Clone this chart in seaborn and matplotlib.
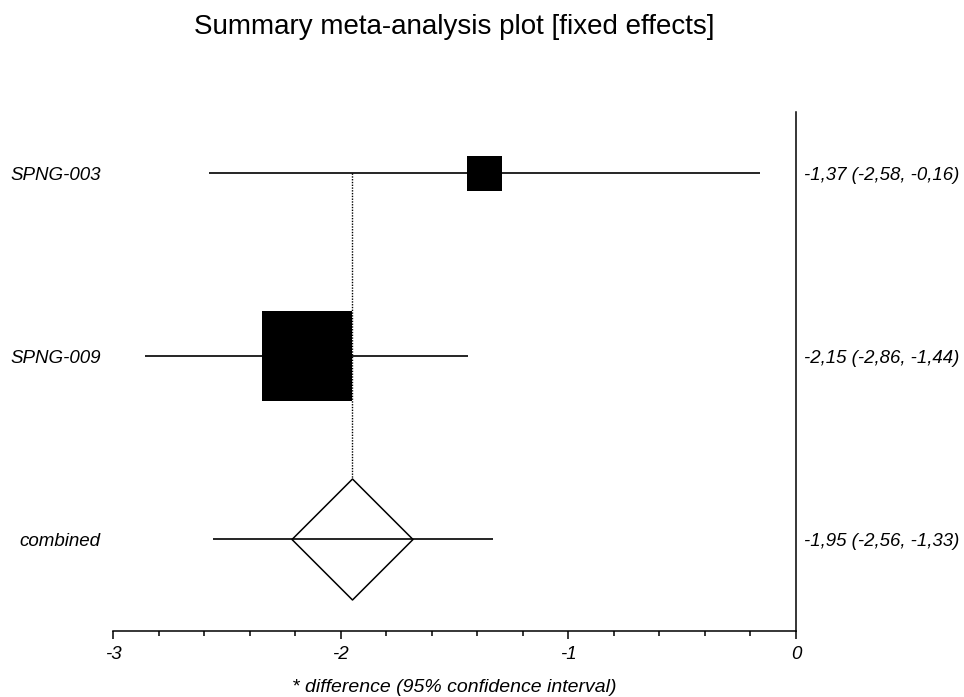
import numpy as np
import pandas as pd
import matplotlib
matplotlib.use("Agg")
import matplotlib.pyplot as plt
import seaborn as sns

# study-level data
studies = ["SPNG-003", "SPNG-009"]
estimates = [-1.37, -2.15]
ci_low = [-2.58, -2.86]
ci_high = [-0.16, -1.44]
weights = [25.6, 74.4]  # inverse-variance weights, %

# pooled (fixed effects)
pooled_label = "combined"
pooled_est = -1.95
pooled_low = -2.56
pooled_high = -1.33

x_ticks = [-3, -2, -1, 0]

sns.set_theme(style="white")
plt.rcParams['font.family'] = ['Liberation Sans', 'DejaVu Sans']
plt.rcParams.update({"text.color": "black", "axes.labelcolor": "black",
                     "xtick.color": "black", "ytick.color": "black"})

def fmt(v):
    return f"{v:.2f}".replace(".", ",")

labels = studies + [pooled_label]
rows = np.arange(len(labels))
df = pd.DataFrame({"study": studies, "est": estimates, "lo": ci_low,
                   "hi": ci_high, "w": weights, "row": rows[:len(studies)]})
right_text = [f"{fmt(e)} ({fmt(l)}, {fmt(h)})"
              for e, l, h in zip(estimates + [pooled_est],
                                 ci_low + [pooled_low],
                                 ci_high + [pooled_high])]

fig = plt.figure(figsize=(9.64, 6.97), dpi=100)
ax = fig.add_axes([0.1175, 0.0947, 0.7082, 0.7446])

# dotted reference line at the pooled estimate
ax.vlines(pooled_est, rows[0], rows[-1], color="black", lw=1.0,
          linestyles=(0, (1, 1)), zorder=1)

# confidence intervals
ax.hlines(df["row"], df["lo"], df["hi"], color="black", lw=1.2, zorder=2)

# weighted squares
sns.scatterplot(data=df, x="est", y="row", size="w", sizes=(635, 4199),
                marker="s", color="black", linewidth=0, legend=False,
                ax=ax, zorder=3)

# pooled diamond
sns.scatterplot(x=[pooled_est], y=[rows[-1]], marker="D", s=3794,
                facecolor="white", edgecolor="black", linewidth=1.1,
                ax=ax, zorder=3)
ax.hlines(rows[-1], pooled_low, pooled_high, color="black", lw=1.2, zorder=4)

ax.set_xlim(-3, 0)
ax.set_ylim(2.5, -1 / 3)

for s in ["left", "top"]:
    ax.spines[s].set_visible(False)
for s in ["bottom", "right"]:
    ax.spines[s].set_linewidth(1.1)
    ax.spines[s].set_color("black")

ax.set_xticks(x_ticks)
ax.set_xticklabels([str(t) for t in x_ticks], fontsize=13.5, style="italic")
ax.set_xticks(np.arange(-3, 0.01, 0.2), minor=True)
ax.tick_params(axis="x", which="major", direction="out", length=6, width=1.1,
               color="black", pad=4.5, bottom=True)
ax.tick_params(axis="x", which="minor", direction="out", length=3.5, width=1.1,
               color="black", bottom=True)

ax.set_yticks(rows)
ax.set_yticklabels(labels, fontsize=13.5, style="italic")
ax.tick_params(axis="y", length=0, pad=9)

ax2 = ax.twinx()
ax2.set_ylim(ax.get_ylim())
ax2.set_yticks(rows)
ax2.set_yticklabels(right_text, fontsize=13.4, style="italic")
ax2.tick_params(axis="y", length=0, pad=6)
for s in ax2.spines.values():
    s.set_visible(False)

ax.set_xlabel("* difference (95% confidence interval)", fontsize=14,
              style="italic", labelpad=12)
ax.set_ylabel("")

fig.text(0.4716, 1 - 34 / 697, "Summary meta-analysis plot [fixed effects]",
         ha="center", va="baseline", fontsize=20)

fig.savefig("out.png", dpi=100)
